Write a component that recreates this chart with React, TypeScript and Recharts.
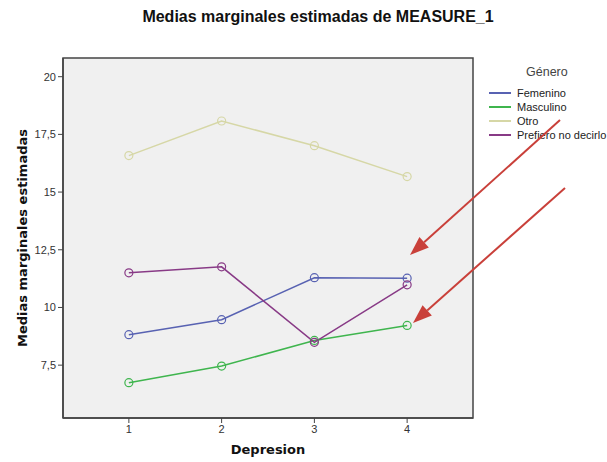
import React from "react";
import { LineChart, Line, XAxis, YAxis, ReferenceArea } from "recharts";

const depresion = [1, 2, 3, 4];
const femenino = [8.82, 9.47, 11.29, 11.27];
const masculino = [6.74, 7.46, 8.57, 9.22];
const otro = [16.58, 18.08, 17.01, 15.67];
const prefiero = [11.5, 11.76, 8.49, 10.98];
const yTicks = [7.5, 10, 12.5, 15, 17.5, 20];
const xTicks = [1, 2, 3, 4];

const series = [
  { key: "Femenino", color: "#5862b2", values: femenino },
  { key: "Masculino", color: "#3fb54e", values: masculino },
  { key: "Otro", color: "#d6d7a6", values: otro },
  { key: "Prefiero no decirlo", color: "#883a86", values: prefiero },
];

const data = depresion.map((d, i) => {
  const row: any = { x: d };
  series.forEach((s) => (row[s.key] = s.values[i]));
  return row;
});

const X_DOMAIN: [number, number] = [0.29, 4.71];
const Y_DOMAIN: [number, number] = [5.21, 20.81];

const fmt = (v: number) => String(v).replace(".", ",");

const LegendBox = () => (
  <div
    style={{
      position: "absolute",
      left: 489,
      top: 65,
      fontFamily: "'Liberation Sans', Arial, sans-serif",
      color: "#222",
    }}
  >
    <div style={{ fontSize: 12.5, color: "#444", marginLeft: 37, marginBottom: 6, lineHeight: "15px" }}>Género</div>
    {series.map((s) => (
      <div key={s.key} style={{ display: "flex", alignItems: "center", height: 14, fontSize: 11 }}>
        <div style={{ width: 22, height: 0, borderTop: `2px solid ${s.color}`, marginRight: 6 }} />
        <span style={{ whiteSpace: "nowrap" }}>{s.key}</span>
      </div>
    ))}
  </div>
);

const Arrow = ({ x1, y1, x2, y2 }: { x1: number; y1: number; x2: number; y2: number }) => {
  const ang = Math.atan2(y2 - y1, x2 - x1);
  const len = 19;
  const half = 7;
  const bx = x2 - len * Math.cos(ang);
  const by = y2 - len * Math.sin(ang);
  const px = -Math.sin(ang) * half;
  const py = Math.cos(ang) * half;
  return (
    <g>
      <line x1={x1} y1={y1} x2={bx} y2={by} stroke="#c9403a" strokeWidth={2} />
      <polygon points={`${x2},${y2} ${bx + px},${by + py} ${bx - px},${by - py}`} fill="#c9403a" />
    </g>
  );
};

export default function App() {
  return (
    <div style={{ position: "absolute", left: 0, top: 0, width: 607, height: 462, background: "#fff" }}>
      <div
        style={{
          position: "absolute",
          top: 8,
          left: 0,
          width: 636,
          textAlign: "center",
          fontFamily: "'Liberation Sans', Arial, sans-serif",
          fontWeight: "bold",
          fontSize: 16,
          color: "#111",
        }}
      >
        Medias marginales estimadas de MEASURE_1
      </div>
      <LineChart width={607} height={462} data={data} margin={{ top: 58, right: 134, bottom: 14, left: 23 }}>
        <XAxis
          dataKey="x"
          type="number"
          domain={X_DOMAIN}
          ticks={xTicks}
          allowDataOverflow
          height={30}
          axisLine={{ stroke: "#444", strokeWidth: 1.5 }}
          tickLine={{ stroke: "#444" }}
          tickSize={5}
          tick={{ fontSize: 11, fill: "#333", fontFamily: "'Liberation Sans', Arial, sans-serif" }}
        />
        <YAxis
          type="number"
          domain={Y_DOMAIN}
          ticks={yTicks}
          allowDataOverflow
          width={40}
          tickFormatter={fmt}
          axisLine={{ stroke: "#444", strokeWidth: 1.5 }}
          tickLine={{ stroke: "#444" }}
          tickSize={5}
          tick={{ fontSize: 11, fill: "#333", fontFamily: "'Liberation Sans', Arial, sans-serif" }}
        />
        <ReferenceArea
          x1={X_DOMAIN[0]}
          x2={X_DOMAIN[1]}
          y1={Y_DOMAIN[0]}
          y2={Y_DOMAIN[1]}
          fill="#f0f0f0"
          fillOpacity={1}
          stroke="#444"
          strokeWidth={1.5}
        />
        {series.map((s) => (
          <Line
            key={s.key}
            dataKey={s.key}
            stroke={s.color}
            strokeWidth={1.5}
            dot={{ r: 4, stroke: s.color, strokeWidth: 1.2, fill: "none" }}
            activeDot={false}
            isAnimationActive={false}
          />
        ))}
      </LineChart>
      <LegendBox />
      <div
        style={{
          position: "absolute",
          top: 442,
          left: 63,
          width: 410,
          textAlign: "center",
          fontFamily: "'DejaVu Sans', sans-serif",
          fontWeight: "bold",
          fontSize: 13,
          color: "#111",
        }}
      >
        Depresion
      </div>
      <div
        style={{
          position: "absolute",
          left: 22,
          top: 238,
          transform: "translate(-50%, -50%) rotate(-90deg)",
          whiteSpace: "nowrap",
          fontFamily: "'DejaVu Sans', sans-serif",
          fontWeight: "bold",
          fontSize: 13,
          color: "#111",
        }}
      >
        Medias marginales estimadas
      </div>
      <svg style={{ position: "absolute", left: 0, top: 0, pointerEvents: "none" }} width={607} height={462}>
        <Arrow x1={560} y1={120} x2={410} y2={255} />
        <Arrow x1={565} y1={188} x2={413} y2={323} />
      </svg>
    </div>
  );
}
